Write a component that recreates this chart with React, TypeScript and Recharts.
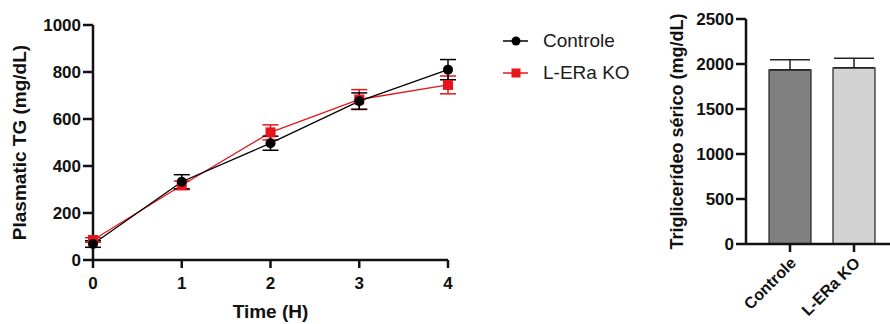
import React from 'react';
import { LineChart, Line, XAxis, YAxis, ErrorBar, Legend, BarChart, Bar, Cell, Label } from 'recharts';

const times = [0, 1, 2, 3, 4];
const controleTG = [68, 333, 497, 676, 810];
const controleErr = [14, 30, 30, 35, 43];
const koTG = [85, 318, 543, 683, 745];
const koErr = [10, 18, 32, 42, 38];
const timeTicks = [0, 1, 2, 3, 4];
const tgTicks = [0, 200, 400, 600, 800, 1000];

const groups = ['Controle', 'L-ERa KO'];
const serumTG = [1935, 1958];
const serumErr = [112, 105];
const serumTicks = [0, 500, 1000, 1500, 2000, 2500];
const barColors = ['#808080', '#d3d3d3'];

const FONT = '"Liberation Sans", Arial, sans-serif';
const RED = '#e8141b';
const INK = '#111';

const lineData = times.map((t, i) => ({
  t,
  controle: controleTG[i],
  controleErr: controleErr[i],
  ko: koTG[i],
  koErr: koErr[i],
}));

const barData = groups.map((name, i) => ({
  name,
  value: serumTG[i],
  err: [0, serumErr[i]],
}));

const tickStyle = { fill: INK, fontSize: 17, fontWeight: 700, fontFamily: FONT };
const axisLineStyle = { stroke: INK, strokeWidth: 2.5 };
const labelStyle = { fill: INK, fontSize: 19, fontWeight: 700, fontFamily: FONT };

const renderCircle = (p: any) => (
  <circle key={`c-${p.index}`} cx={p.cx} cy={p.cy} r={5} fill="#000" />
);
const renderSquare = (p: any) => (
  <rect key={`s-${p.index}`} x={p.cx - 5} y={p.cy - 5} width={10} height={10} fill={RED} />
);

const legendContent = (props: any) => {
  const payload = props.payload || [];
  const order = ['controle', 'ko'];
  const items = order
    .map((k) => payload.find((p: any) => p.dataKey === k))
    .filter(Boolean);
  return (
    <div style={{ fontFamily: FONT }}>
      {items.map((it: any) => {
        const isKo = it.dataKey === 'ko';
        const color = isKo ? RED : '#000';
        return (
          <div key={it.dataKey} style={{ display: 'flex', alignItems: 'center', height: 32 }}>
            <svg width={40} height={32} style={{ display: 'block' }}>
              <line x1={0} x2={25} y1={16} y2={16} stroke={color} strokeWidth={1.5} />
              {isKo ? (
                <rect x={8.5} y={11.5} width={9} height={9} fill={color} />
              ) : (
                <circle cx={13} cy={16} r={4.5} fill={color} />
              )}
            </svg>
            <span style={{ fontSize: 19, color: '#1a1a1a', whiteSpace: 'nowrap' }}>{it.value}</span>
          </div>
        );
      })}
    </div>
  );
};

const renderBarTick = (p: any) => (
  <g transform={`translate(${p.x + 7},${p.y + 10})`}>
    <text
      transform="rotate(-45)"
      textAnchor="end"
      fill={INK}
      fontSize={16}
      fontWeight={700}
      fontFamily={FONT}
    >
      {p.payload.value}
    </text>
  </g>
);

export default function App() {
  return (
    <div style={{ position: 'absolute', left: 0, top: 0, width: 890, height: 324, background: '#fff' }}>
      <div style={{ position: 'absolute', left: 0, top: 0 }}>
        <LineChart width={640} height={324} data={lineData} margin={{ top: 25, right: 192, bottom: 6, left: 0 }}>
          <XAxis
            dataKey="t"
            type="number"
            domain={[0, 4]}
            ticks={timeTicks}
            height={58}
            tickSize={8}
            tickMargin={9}
            axisLine={axisLineStyle}
            tickLine={axisLineStyle}
            tick={tickStyle}
          >
            <Label value="Time (H)" position="insideBottom" offset={0} style={labelStyle} />
          </XAxis>
          <YAxis
            type="number"
            domain={[0, 1000]}
            ticks={tgTicks}
            width={93}
            tickSize={10}
            tickMargin={2}
            axisLine={axisLineStyle}
            tickLine={axisLineStyle}
            tick={tickStyle}
          >
            <Label value="Plasmatic TG (mg/dL)" angle={-90} position="center" dx={-27} style={labelStyle} />
          </YAxis>
          <Line
            name="L-ERa KO"
            dataKey="ko"
            stroke={RED}
            strokeWidth={1.3}
            dot={renderSquare}
            activeDot={false}
            isAnimationActive={false}
          >
            <ErrorBar dataKey="koErr" width={8} stroke={RED} strokeWidth={1.5} direction="y" />
          </Line>
          <Line
            name="Controle"
            dataKey="controle"
            stroke="#000"
            strokeWidth={1.3}
            dot={renderCircle}
            activeDot={false}
            isAnimationActive={false}
          >
            <ErrorBar dataKey="controleErr" width={8} stroke="#000" strokeWidth={1.5} direction="y" />
          </Line>
          <Legend
            layout="vertical"
            align="center"
            verticalAlign="middle"
            content={legendContent}
            wrapperStyle={{ left: 503, top: 25, width: 130, height: 64 }}
          />
        </LineChart>
      </div>
      <div style={{ position: 'absolute', left: 640, top: 0 }}>
        <BarChart width={250} height={324} data={barData} margin={{ top: 19, right: 0, bottom: 0, left: 0 }}>
          <XAxis
            dataKey="name"
            height={80}
            padding={{ left: 12, right: 4 }}
            tickSize={8}
            axisLine={axisLineStyle}
            tickLine={axisLineStyle}
            tick={renderBarTick}
            interval={0}
          />
          <YAxis
            type="number"
            domain={[0, 2500]}
            ticks={serumTicks}
            width={106}
            tickSize={10}
            tickMargin={2}
            axisLine={axisLineStyle}
            tickLine={axisLineStyle}
            tick={tickStyle}
          >
            <Label value="Triglicerídeo sérico (mg/dL)" angle={-90} position="center" dx={-16} style={{ ...labelStyle, fontSize: 18 }} />
          </YAxis>
          <Bar dataKey="value" barSize={42} stroke="#222" strokeWidth={1.2} isAnimationActive={false}>
            {barData.map((d, i) => (
              <Cell key={d.name} fill={barColors[i]} />
            ))}
            <ErrorBar dataKey="err" width={20} stroke="#222" strokeWidth={1.5} direction="y" />
          </Bar>
        </BarChart>
      </div>
    </div>
  );
}
